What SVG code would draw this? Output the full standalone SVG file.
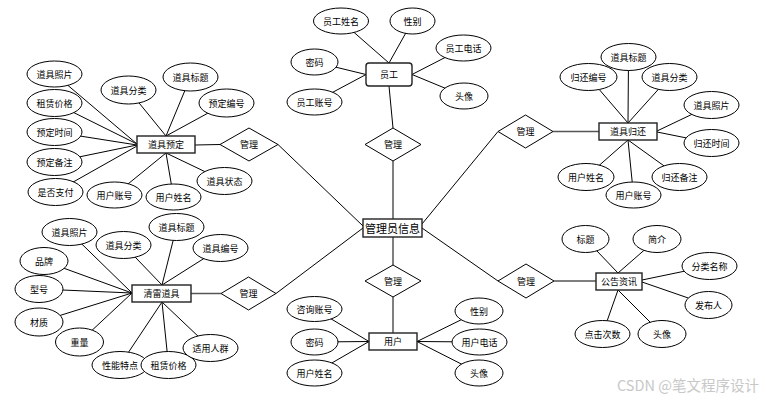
<svg xmlns="http://www.w3.org/2000/svg" width="767" height="400" viewBox="0 0 767 400">
<style>
.e{fill:#fff;stroke:#000;stroke-width:1}
.r{fill:#fff;stroke:#222;stroke-width:1.4}
.d{fill:#fff;stroke:#000;stroke-width:1}
.c line{stroke:#000;stroke-width:1}
.t{font-family:"Noto Sans CJK SC","Noto Sans CJK JP",sans-serif;font-size:9px;text-anchor:middle;dominant-baseline:central;fill:#000}
.tb{font-size:11px}
.wm{font-family:"Noto Sans CJK SC",sans-serif;font-size:14.5px;fill:#c8c8c8}
</style>
<rect width="767" height="400" fill="#fff"/>
<g id="connectors" class="c">
<line x1="54.5" y1="74" x2="137" y2="144"/>
<line x1="54.5" y1="103" x2="137" y2="144"/>
<line x1="54.5" y1="132" x2="137" y2="145"/>
<line x1="54.5" y1="162" x2="137" y2="145"/>
<line x1="55.5" y1="192" x2="137" y2="146"/>
<line x1="128.5" y1="90" x2="166" y2="136"/>
<line x1="190.5" y1="77" x2="166" y2="136"/>
<line x1="226.5" y1="103" x2="166" y2="136"/>
<line x1="224.5" y1="181" x2="166" y2="153"/>
<line x1="173.5" y1="197" x2="166" y2="153"/>
<line x1="114.5" y1="195" x2="166" y2="153"/>
<line x1="195" y1="145" x2="220" y2="144.5"/>
<line x1="278" y1="144.5" x2="363" y2="226"/>
<line x1="341" y1="21" x2="389" y2="63"/>
<line x1="412.5" y1="21" x2="389" y2="63"/>
<line x1="314.5" y1="62" x2="366" y2="74.5"/>
<line x1="314.5" y1="102" x2="366" y2="74.5"/>
<line x1="463.5" y1="48" x2="412" y2="74.5"/>
<line x1="464" y1="96" x2="412" y2="74.5"/>
<line x1="389" y1="86" x2="393" y2="128"/>
<line x1="393" y1="161" x2="393" y2="219"/>
<line x1="393" y1="237" x2="393" y2="265"/>
<line x1="393" y1="297" x2="393" y2="333"/>
<line x1="314.5" y1="309" x2="369" y2="341.5"/>
<line x1="314.5" y1="342" x2="369" y2="341.5"/>
<line x1="314.5" y1="373" x2="369" y2="341.5"/>
<line x1="479" y1="311" x2="417" y2="341.5"/>
<line x1="479.5" y1="342" x2="417" y2="341.5"/>
<line x1="479" y1="373" x2="417" y2="341.5"/>
<line x1="69.5" y1="232" x2="132" y2="293"/>
<line x1="44" y1="261" x2="132" y2="293"/>
<line x1="39" y1="289" x2="132" y2="293"/>
<line x1="39" y1="322" x2="132" y2="293"/>
<line x1="79.5" y1="342" x2="132" y2="293"/>
<line x1="123.5" y1="245" x2="162" y2="285"/>
<line x1="176.5" y1="227" x2="162" y2="285"/>
<line x1="220.5" y1="248" x2="162" y2="285"/>
<line x1="120" y1="365" x2="162" y2="302"/>
<line x1="168.5" y1="365" x2="162" y2="302"/>
<line x1="210.5" y1="348" x2="162" y2="302"/>
<line x1="191" y1="293.5" x2="221" y2="293.5" style="stroke:#555;stroke-width:1.5"/>
<line x1="276" y1="293.5" x2="363" y2="228"/>
<line x1="498" y1="131.5" x2="422" y2="224"/>
<line x1="553" y1="131.5" x2="599" y2="131.5" style="stroke:#555;stroke-width:1.5"/>
<line x1="588.5" y1="77" x2="628" y2="123"/>
<line x1="628.5" y1="57" x2="628" y2="123"/>
<line x1="669.5" y1="77" x2="628" y2="123"/>
<line x1="711.5" y1="105" x2="657" y2="131"/>
<line x1="711.5" y1="143" x2="657" y2="132"/>
<line x1="586" y1="177" x2="628" y2="140"/>
<line x1="633.5" y1="195" x2="628" y2="140"/>
<line x1="679.5" y1="177" x2="628" y2="140"/>
<line x1="422" y1="228" x2="498" y2="281"/>
<line x1="554" y1="281" x2="596" y2="281" style="stroke:#555;stroke-width:1.5"/>
<line x1="585.5" y1="239" x2="618" y2="273"/>
<line x1="657" y1="239" x2="618" y2="273"/>
<line x1="709.5" y1="266" x2="642" y2="280"/>
<line x1="708.5" y1="305" x2="642" y2="282"/>
<line x1="602.5" y1="334" x2="618" y2="290"/>
<line x1="662" y1="334" x2="618" y2="290"/>
</g>

<g id="yd-photo"><ellipse class="e" cx="54.5" cy="74" rx="27.5" ry="13"/><text class="t" x="54.5" y="74">道具照片</text></g>
<g id="yd-price"><ellipse class="e" cx="54.5" cy="103" rx="27.5" ry="13.5"/><text class="t" x="54.5" y="103">租赁价格</text></g>
<g id="yd-time"><ellipse class="e" cx="54.5" cy="132" rx="27.5" ry="13.5"/><text class="t" x="54.5" y="132">预定时间</text></g>
<g id="yd-note"><ellipse class="e" cx="54.5" cy="162" rx="27.5" ry="13.5"/><text class="t" x="54.5" y="162">预定备注</text></g>
<g id="yd-paid"><ellipse class="e" cx="55.5" cy="192" rx="27.5" ry="13.5"/><text class="t" x="55.5" y="192">是否支付</text></g>
<g id="yd-cat"><ellipse class="e" cx="128.5" cy="90" rx="27.5" ry="14"/><text class="t" x="128.5" y="90">道具分类</text></g>
<g id="yd-title"><ellipse class="e" cx="190.5" cy="77" rx="27.5" ry="14"/><text class="t" x="190.5" y="77">道具标题</text></g>
<g id="yd-no"><ellipse class="e" cx="226.5" cy="103" rx="27.5" ry="14"/><text class="t" x="226.5" y="103">预定编号</text></g>
<g id="yd-state"><ellipse class="e" cx="224.5" cy="181" rx="27.5" ry="13.5"/><text class="t" x="224.5" y="181">道具状态</text></g>
<g id="yd-acct"><ellipse class="e" cx="114.5" cy="195" rx="27.5" ry="13"/><text class="t" x="114.5" y="195">用户账号</text></g>
<g id="yd-uname"><ellipse class="e" cx="173.5" cy="197" rx="27.5" ry="13"/><text class="t" x="173.5" y="197">用户姓名</text></g>
<g id="yd"><rect class="r" x="137" y="136" width="58" height="17"/><text class="t" x="166" y="144.5">道具预定</text></g>
<g id="rel-yd"><polygon class="d" points="220,144.5 249,128 278,144.5 249,161"/><text class="t" x="249" y="144.5">管理</text></g>

<g id="yg-name"><ellipse class="e" cx="341" cy="21" rx="27.5" ry="13"/><text class="t" x="341" y="21">员工姓名</text></g>
<g id="yg-sex"><ellipse class="e" cx="412.5" cy="21" rx="22.5" ry="13"/><text class="t" x="412.5" y="21">性别</text></g>
<g id="yg-tel"><ellipse class="e" cx="463.5" cy="48" rx="27.5" ry="13"/><text class="t" x="463.5" y="48">员工电话</text></g>
<g id="yg-pwd"><ellipse class="e" cx="314.5" cy="62" rx="23.5" ry="13"/><text class="t" x="314.5" y="62">密码</text></g>
<g id="yg-acct"><ellipse class="e" cx="314.5" cy="102" rx="27.5" ry="13"/><text class="t" x="314.5" y="102">员工账号</text></g>
<g id="yg-avatar"><ellipse class="e" cx="464" cy="96" rx="24" ry="13"/><text class="t" x="464" y="96">头像</text></g>
<g id="yg"><rect class="r" x="366" y="63" width="46" height="23" rx="3"/><text class="t" x="389" y="74.5">员工</text></g>
<g id="rel-yg"><polygon class="d" points="365,144.5 393,128 421,144.5 393,161"/><text class="t" x="393" y="144.5">管理</text></g>

<g id="admin"><rect class="r" x="363" y="219" width="59" height="18"/><text class="t tb" x="392.5" y="228">管理员信息</text></g>

<g id="rel-yh"><polygon class="d" points="365,281 393,265 421,281 393,297"/><text class="t" x="393" y="281">管理</text></g>
<g id="yh"><rect class="r" x="369" y="333" width="48" height="17"/><text class="t" x="393" y="341.5">用户</text></g>
<g id="yh-acct"><ellipse class="e" cx="314.5" cy="309" rx="27.5" ry="12.5"/><text class="t" x="314.5" y="309">咨询账号</text></g>
<g id="yh-pwd"><ellipse class="e" cx="314.5" cy="342" rx="23.5" ry="13"/><text class="t" x="314.5" y="342">密码</text></g>
<g id="yh-name"><ellipse class="e" cx="314.5" cy="373" rx="27.5" ry="13"/><text class="t" x="314.5" y="373">用户姓名</text></g>
<g id="yh-sex"><ellipse class="e" cx="479" cy="311" rx="24" ry="13"/><text class="t" x="479" y="311">性别</text></g>
<g id="yh-tel"><ellipse class="e" cx="479.5" cy="342" rx="27.5" ry="13"/><text class="t" x="479.5" y="342">用户电话</text></g>
<g id="yh-avatar"><ellipse class="e" cx="479" cy="373" rx="24" ry="13"/><text class="t" x="479" y="373">头像</text></g>

<g id="ql-photo"><ellipse class="e" cx="69.5" cy="232" rx="27.5" ry="13.5"/><text class="t" x="69.5" y="232">道具照片</text></g>
<g id="ql-cat"><ellipse class="e" cx="123.5" cy="245" rx="27.5" ry="13.5"/><text class="t" x="123.5" y="245">道具分类</text></g>
<g id="ql-title"><ellipse class="e" cx="176.5" cy="227" rx="27.5" ry="13.5"/><text class="t" x="176.5" y="227">道具标题</text></g>
<g id="ql-no"><ellipse class="e" cx="220.5" cy="248" rx="27.5" ry="13.5"/><text class="t" x="220.5" y="248">道具编号</text></g>
<g id="ql-brand"><ellipse class="e" cx="44" cy="261" rx="24" ry="13.5"/><text class="t" x="44" y="261">品牌</text></g>
<g id="ql-model"><ellipse class="e" cx="39" cy="289" rx="24" ry="13.5"/><text class="t" x="39" y="289">型号</text></g>
<g id="ql-mat"><ellipse class="e" cx="39" cy="322" rx="24" ry="14"/><text class="t" x="39" y="322">材质</text></g>
<g id="ql-weight"><ellipse class="e" cx="79.5" cy="342" rx="24" ry="14"/><text class="t" x="79.5" y="342">重量</text></g>
<g id="ql-feat"><ellipse class="e" cx="120" cy="365" rx="28" ry="13.5"/><text class="t" x="120" y="365">性能特点</text></g>
<g id="ql-price"><ellipse class="e" cx="168.5" cy="365" rx="27.5" ry="13.5"/><text class="t" x="168.5" y="365">租赁价格</text></g>
<g id="ql-crowd"><ellipse class="e" cx="210.5" cy="348" rx="27.5" ry="13.5"/><text class="t" x="210.5" y="348">适用人群</text></g>
<g id="ql"><rect class="r" x="132" y="285" width="59" height="17"/><text class="t" x="161.5" y="293.5">清雷道具</text></g>
<g id="rel-ql"><polygon class="d" points="221,293.5 248.5,277 276,293.5 248.5,310"/><text class="t" x="248.5" y="293.5">管理</text></g>

<g id="rel-gh"><polygon class="d" points="498,131.5 525.5,115 553,131.5 525.5,148"/><text class="t" x="525.5" y="131.5">管理</text></g>
<g id="gh-title"><ellipse class="e" cx="628.5" cy="57" rx="27.5" ry="13.5"/><text class="t" x="628.5" y="57">道具标题</text></g>
<g id="gh-no"><ellipse class="e" cx="588.5" cy="77" rx="28.5" ry="13.5"/><text class="t" x="588.5" y="77">归还编号</text></g>
<g id="gh-cat"><ellipse class="e" cx="669.5" cy="77" rx="27.5" ry="13.5"/><text class="t" x="669.5" y="77">道具分类</text></g>
<g id="gh-photo"><ellipse class="e" cx="711.5" cy="105" rx="27.5" ry="13.5"/><text class="t" x="711.5" y="105">道具照片</text></g>
<g id="gh-time"><ellipse class="e" cx="711.5" cy="143" rx="27.5" ry="13.5"/><text class="t" x="711.5" y="143">归还时间</text></g>
<g id="gh-uname"><ellipse class="e" cx="586" cy="177" rx="28" ry="13.5"/><text class="t" x="586" y="177">用户姓名</text></g>
<g id="gh-note"><ellipse class="e" cx="679.5" cy="177" rx="27.5" ry="13.5"/><text class="t" x="679.5" y="177">归还备注</text></g>
<g id="gh-acct"><ellipse class="e" cx="633.5" cy="195" rx="27.5" ry="13"/><text class="t" x="633.5" y="195">用户账号</text></g>
<g id="gh"><rect class="r" x="599" y="123" width="58" height="17"/><text class="t" x="628" y="131.5">道具归还</text></g>

<g id="rel-gg"><polygon class="d" points="498,281 526,264 554,281 526,298"/><text class="t" x="526" y="281">管理</text></g>
<g id="gg-title"><ellipse class="e" cx="585.5" cy="239" rx="23.5" ry="13.5"/><text class="t" x="585.5" y="239">标题</text></g>
<g id="gg-intro"><ellipse class="e" cx="657" cy="239" rx="24" ry="13.5"/><text class="t" x="657" y="239">简介</text></g>
<g id="gg-cat"><ellipse class="e" cx="709.5" cy="266" rx="27.5" ry="13.5"/><text class="t" x="709.5" y="266">分类名称</text></g>
<g id="gg-pub"><ellipse class="e" cx="708.5" cy="305" rx="23.5" ry="13.5"/><text class="t" x="708.5" y="305">发布人</text></g>
<g id="gg-clicks"><ellipse class="e" cx="602.5" cy="334" rx="27.5" ry="13.5"/><text class="t" x="602.5" y="334">点击次数</text></g>
<g id="gg-avatar"><ellipse class="e" cx="662" cy="334" rx="24" ry="13.5"/><text class="t" x="662" y="334">头像</text></g>
<g id="gg"><rect class="r" x="596" y="273" width="46" height="17"/><text class="t" x="619" y="281.5">公告资讯</text></g>

<text class="wm" x="617" y="391">CSDN @笔文程序设计</text>
</svg>
